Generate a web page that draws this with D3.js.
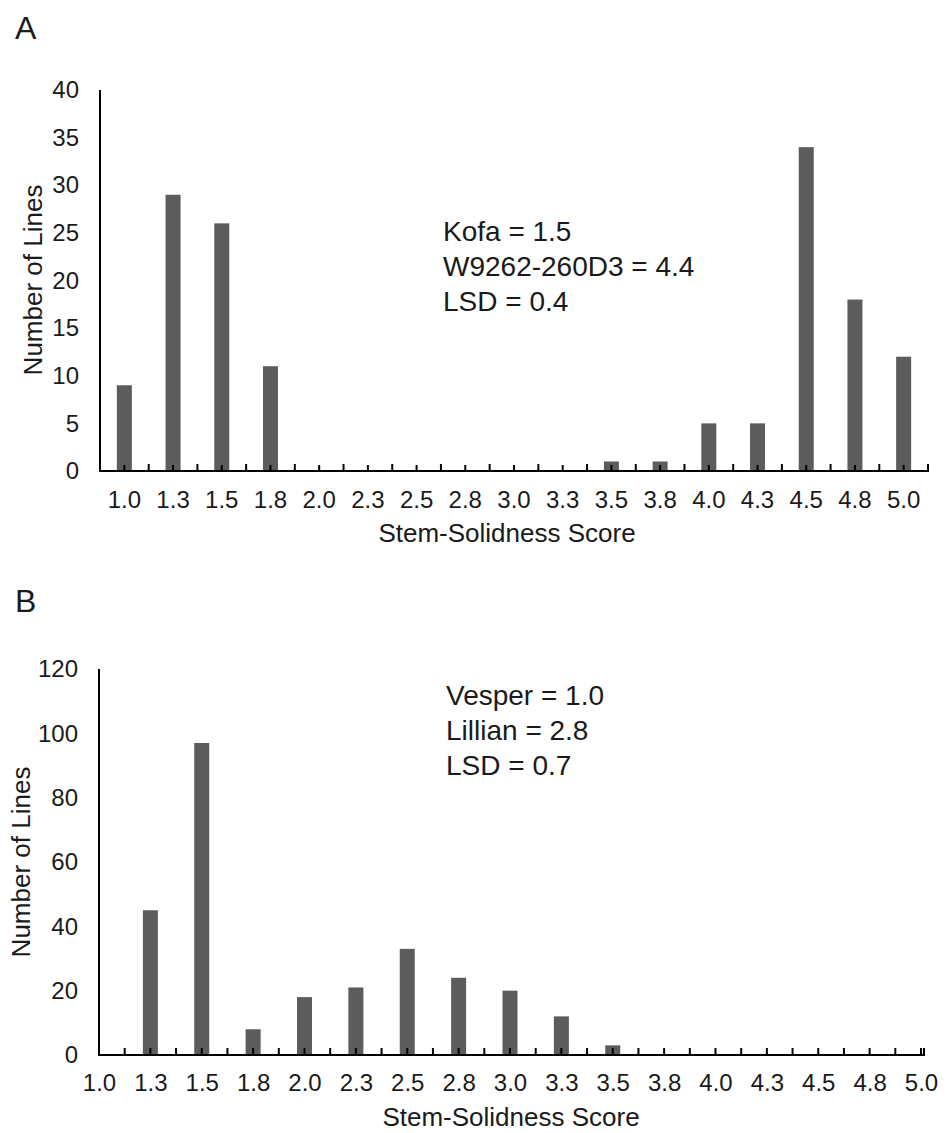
<!DOCTYPE html>
<html>
<head>
<meta charset="utf-8">
<script src="https://cdn.jsdelivr.net/npm/d3@7"></script>
<style>
  html, body { margin: 0; padding: 0; background: #fff; }
  svg { display: block; }
  text { font-family: "Liberation Sans", Arial, sans-serif; fill: #1a1a1a; }
</style>
</head>
<body>
<svg id="chart" width="950" height="1133"></svg>
<script>
// ---- data ----
const categories = ["1.0","1.3","1.5","1.8","2.0","2.3","2.5","2.8","3.0","3.3","3.5","3.8","4.0","4.3","4.5","4.8","5.0"];
const countsA = [9, 29, 26, 11, 0, 0, 0, 0, 0, 0, 1, 1, 5, 5, 34, 18, 12];
const countsB = [0, 45, 97, 8, 18, 21, 33, 24, 20, 12, 3, 0, 0, 0, 0, 0, 0];
const yTicksA = [0, 5, 10, 15, 20, 25, 30, 35, 40];
const yTicksB = [0, 20, 40, 60, 80, 100, 120];
const notesA = ["Kofa = 1.5", "W9262-260D3 = 4.4", "LSD = 0.4"];
const notesB = ["Vesper = 1.0", "Lillian = 2.8", "LSD = 0.7"];
const xTitle = "Stem-Solidness Score";
const yTitle = "Number of Lines";

const svg = d3.select("#chart");
const barColor = "#5c5c5c";
const barW = 15;
const tickFont = 24, titleFont = 26, noteFont = 28, panelFont = 32;

// ================= Panel A =================
{
  const g = svg.append("g");
  const x = d3.scaleBand().domain(categories).range([100, 928]).paddingInner(0).paddingOuter(0);
  const y = d3.scaleLinear().domain([0, 40]).range([471, 90]);
  const bw = x.bandwidth();

  g.append("text").attr("x", 15).attr("y", 39).attr("font-size", panelFont).text("A");

  g.selectAll("rect.bar").data(categories).enter().append("rect")
    .attr("x", d => x(d) + bw / 2 - barW / 2)
    .attr("y", (d, i) => y(countsA[i]))
    .attr("width", barW)
    .attr("height", (d, i) => y(0) - y(countsA[i]))
    .attr("fill", barColor);

  const ya = d3.axisLeft(y).tickValues(yTicksA).tickSize(0).tickPadding(21);
  const yg = g.append("g").attr("transform", "translate(100,0)").call(ya);
  yg.select(".domain").remove();
  yg.selectAll("text").attr("font-size", tickFont).attr("fill", "#1a1a1a").attr("font-family", "Liberation Sans, Arial, sans-serif");
  g.append("line").attr("x1", 100).attr("x2", 100).attr("y1", y(40)).attr("y2", y(0) + 1)
    .attr("stroke", "#000").attr("stroke-width", 2);

  const xa = d3.axisBottom(x).tickSize(0).tickPadding(20);
  const xg = g.append("g").attr("transform", `translate(0,${y(0)})`).call(xa);
  xg.select(".domain").remove();
  xg.selectAll("text").attr("font-size", tickFont).attr("fill", "#1a1a1a").attr("font-family", "Liberation Sans, Arial, sans-serif");
  g.append("line").attr("x1", 99).attr("x2", 929).attr("y1", y(0)).attr("y2", y(0))
    .attr("stroke", "#000").attr("stroke-width", 2);
  const boundaries = categories.slice(1).map(c => x(c)).concat([x.range()[1]]);
  const centers = categories.map(c => x(c) + bw / 2);
  g.selectAll("line.tb").data(boundaries).enter().append("line")
    .attr("x1", d => d).attr("x2", d => d).attr("y1", y(0)).attr("y2", y(0) - 7)
    .attr("stroke", "#000").attr("stroke-width", 2);
  g.selectAll("line.tc").data(centers).enter().append("line")
    .attr("x1", d => d).attr("x2", d => d).attr("y1", y(0)).attr("y2", y(0) - 6)
    .attr("stroke", "#000").attr("stroke-width", 2);

  g.append("text").attr("x", 507).attr("y", 542).attr("text-anchor", "middle").attr("font-size", titleFont).text(xTitle);
  g.append("text").attr("transform", "translate(42,280) rotate(-90)").attr("text-anchor", "middle").attr("font-size", titleFont).text(yTitle);

  g.selectAll("text.note").data(notesA).enter().append("text")
    .attr("x", 443).attr("y", (d, i) => 241 + i * 35).attr("font-size", noteFont).text(d => d);
}

// ================= Panel B =================
{
  const g = svg.append("g");
  const x = d3.scalePoint().domain(categories).range([99, 921]);
  const y = d3.scaleLinear().domain([0, 120]).range([1055, 669]);
  const step = x.step();

  g.append("text").attr("x", 15).attr("y", 612).attr("font-size", panelFont).text("B");

  g.selectAll("rect.bar").data(categories).enter().append("rect")
    .attr("x", d => x(d) - barW / 2)
    .attr("y", (d, i) => y(countsB[i]))
    .attr("width", barW)
    .attr("height", (d, i) => y(0) - y(countsB[i]))
    .attr("fill", barColor);

  const ya = d3.axisLeft(y).tickValues(yTicksB).tickSize(0).tickPadding(21);
  const yg = g.append("g").attr("transform", "translate(99,0)").call(ya);
  yg.select(".domain").remove();
  yg.selectAll("text").attr("font-size", tickFont).attr("fill", "#1a1a1a").attr("font-family", "Liberation Sans, Arial, sans-serif");
  g.append("line").attr("x1", 99).attr("x2", 99).attr("y1", y(120)).attr("y2", y(0) + 1)
    .attr("stroke", "#000").attr("stroke-width", 2);

  const xa = d3.axisBottom(x).tickSize(0).tickPadding(19);
  const xg = g.append("g").attr("transform", `translate(0,${y(0)})`).call(xa);
  xg.select(".domain").remove();
  xg.selectAll("text").attr("font-size", tickFont).attr("fill", "#1a1a1a").attr("font-family", "Liberation Sans, Arial, sans-serif");
  g.append("line").attr("x1", 98).attr("x2", 925).attr("y1", y(0)).attr("y2", y(0))
    .attr("stroke", "#000").attr("stroke-width", 2);

  const major = categories.slice(1).map(c => x(c));
  const minor = categories.slice(0, -1).map(c => x(c) + step / 2);
  g.selectAll("line.tm").data(major.concat(minor)).enter().append("line")
    .attr("x1", d => d).attr("x2", d => d).attr("y1", y(0)).attr("y2", y(0) - 7)
    .attr("stroke", "#000").attr("stroke-width", 2);
  g.append("line").attr("x1", 924).attr("x2", 924).attr("y1", y(0)).attr("y2", y(0) - 7)
    .attr("stroke", "#000").attr("stroke-width", 2);

  g.append("text").attr("x", 511).attr("y", 1126).attr("text-anchor", "middle").attr("font-size", titleFont).text(xTitle);
  g.append("text").attr("transform", "translate(30,862) rotate(-90)").attr("text-anchor", "middle").attr("font-size", titleFont).text(yTitle);

  g.selectAll("text.note").data(notesB).enter().append("text")
    .attr("x", 446).attr("y", (d, i) => 705 + i * 35).attr("font-size", noteFont).text(d => d);
}
</script>
</body>
</html>
